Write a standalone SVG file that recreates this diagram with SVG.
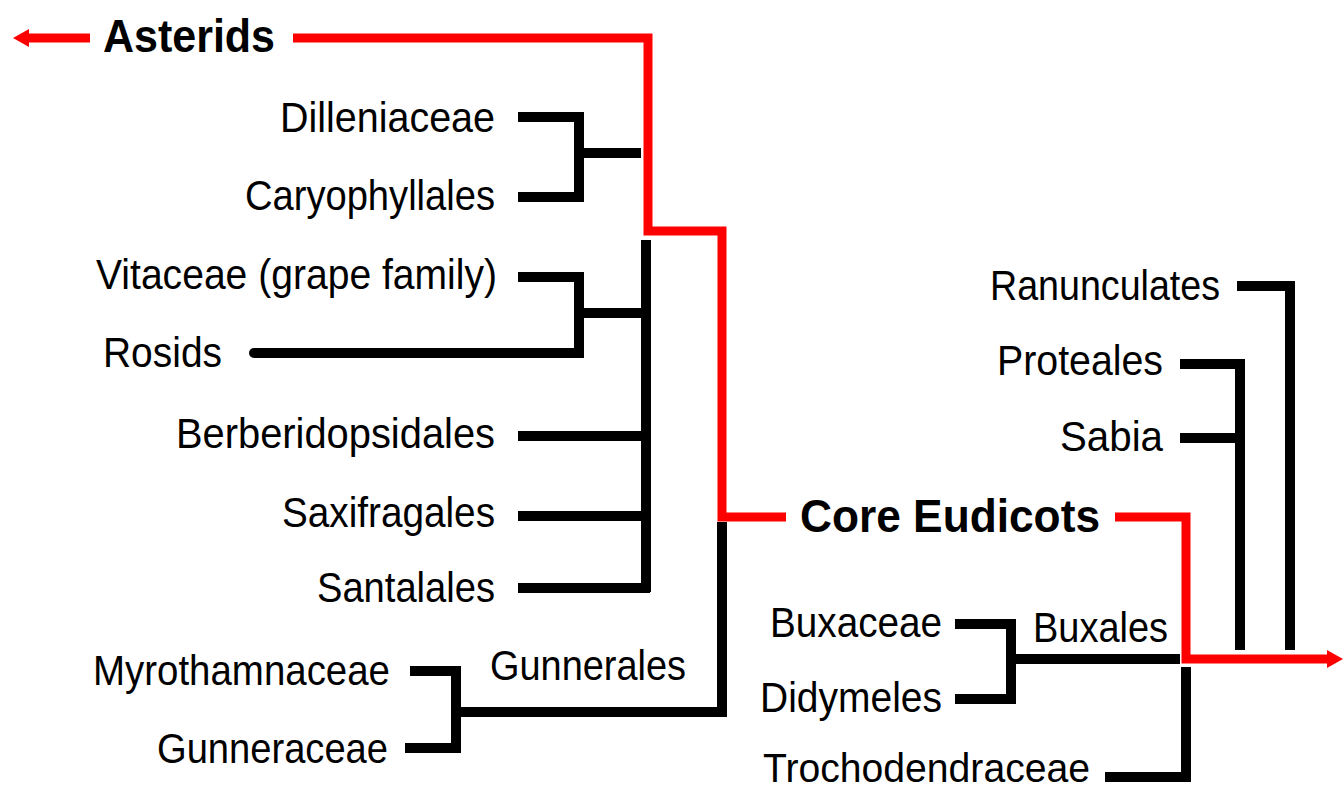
<svg xmlns="http://www.w3.org/2000/svg" width="1344" height="792" viewBox="0 0 1344 792">
<style>
text{font-family:"Liberation Sans",Arial,sans-serif;font-size:43px;fill:#000}
text.b{font-weight:bold;font-size:46px}
.k{fill:none;stroke:#000;stroke-width:10;stroke-linejoin:miter;stroke-linecap:butt}
.r{fill:none;stroke:#f00;stroke-width:9;stroke-linejoin:miter;stroke-linecap:butt}
</style>
<defs>
<marker id="ah" markerUnits="userSpaceOnUse" markerWidth="16" markerHeight="18" viewBox="0 0 16 18" refX="1" refY="9" orient="auto">
<path d="M0,0 L16,9 L0,18 z" fill="#f00"/>
</marker>
</defs>
<rect width="1344" height="792" fill="#fff"/>
<g id="connectors">
<path class="r" d="M90,38 H28" marker-end="url(#ah)"/>
<path class="r" d="M293,38 H648 V231 H722 V517 H786"/>
<path class="r" d="M1115,517 H1186 V659 H1328" marker-end="url(#ah)"/>
<path class="k" d="M518,117 H579 V197 H518"/>
<path class="k" d="M575,153 H641"/>
<path class="k" d="M518,277 H579 V353 H575"/>
<path class="k" d="M254,353 H575" style="stroke-linecap:round"/>
<path class="k" d="M575,313 H646"/>
<path class="k" d="M646,240 V592"/>
<path class="k" d="M518,436 H646"/>
<path class="k" d="M518,516 H646"/>
<path class="k" d="M518,588 H650"/>
<path class="k" d="M722,522 V712 H452"/>
<path class="k" d="M410,671 H456 V748 H405"/>
<path class="k" d="M1237,286 H1290 V650"/>
<path class="k" d="M1180,364 H1240 V650"/>
<path class="k" d="M1180,438 H1240"/>
<path class="k" d="M955,624 H1011 V699 H955"/>
<path class="k" d="M1011,659 H1180"/>
<path class="k" d="M1186,667 V777 H1105"/>
</g>
<g id="asterids"><text class="b" x="103" y="52" textLength="172" lengthAdjust="spacingAndGlyphs">Asterids</text></g>
<g id="dilleniaceae"><text x="280" y="132" textLength="215" lengthAdjust="spacingAndGlyphs">Dilleniaceae</text></g>
<g id="caryophyllales"><text x="245" y="210" textLength="250" lengthAdjust="spacingAndGlyphs">Caryophyllales</text></g>
<g id="vitaceae"><text x="96" y="289" textLength="401" lengthAdjust="spacingAndGlyphs">Vitaceae (grape family)</text></g>
<g id="rosids"><text x="103" y="367" textLength="119" lengthAdjust="spacingAndGlyphs">Rosids</text></g>
<g id="berberidopsidales"><text x="176" y="448" textLength="319" lengthAdjust="spacingAndGlyphs">Berberidopsidales</text></g>
<g id="saxifragales"><text x="282" y="527" textLength="213" lengthAdjust="spacingAndGlyphs">Saxifragales</text></g>
<g id="santalales"><text x="317" y="602" textLength="178" lengthAdjust="spacingAndGlyphs">Santalales</text></g>
<g id="myrothamnaceae"><text x="93" y="685" textLength="297" lengthAdjust="spacingAndGlyphs">Myrothamnaceae</text></g>
<g id="gunneraceae"><text x="157" y="763" textLength="231" lengthAdjust="spacingAndGlyphs">Gunneraceae</text></g>
<g id="gunnerales"><text x="490" y="680" textLength="196" lengthAdjust="spacingAndGlyphs">Gunnerales</text></g>
<g id="ranunculates"><text x="990" y="300" textLength="230" lengthAdjust="spacingAndGlyphs">Ranunculates</text></g>
<g id="proteales"><text x="997" y="375" textLength="166" lengthAdjust="spacingAndGlyphs">Proteales</text></g>
<g id="sabia"><text x="1060" y="451" textLength="103" lengthAdjust="spacingAndGlyphs">Sabia</text></g>
<g id="core-eudicots"><text class="b" x="800" y="532" textLength="300" lengthAdjust="spacingAndGlyphs">Core Eudicots</text></g>
<g id="buxaceae"><text x="770" y="637" textLength="172" lengthAdjust="spacingAndGlyphs">Buxaceae</text></g>
<g id="buxales"><text x="1033" y="642" textLength="135" lengthAdjust="spacingAndGlyphs">Buxales</text></g>
<g id="didymeles"><text x="760" y="712" textLength="182" lengthAdjust="spacingAndGlyphs">Didymeles</text></g>
<g id="trochodendraceae"><text x="763" y="782" style="font-size:40px" textLength="327" lengthAdjust="spacingAndGlyphs">Trochodendraceae</text></g>
</svg>
